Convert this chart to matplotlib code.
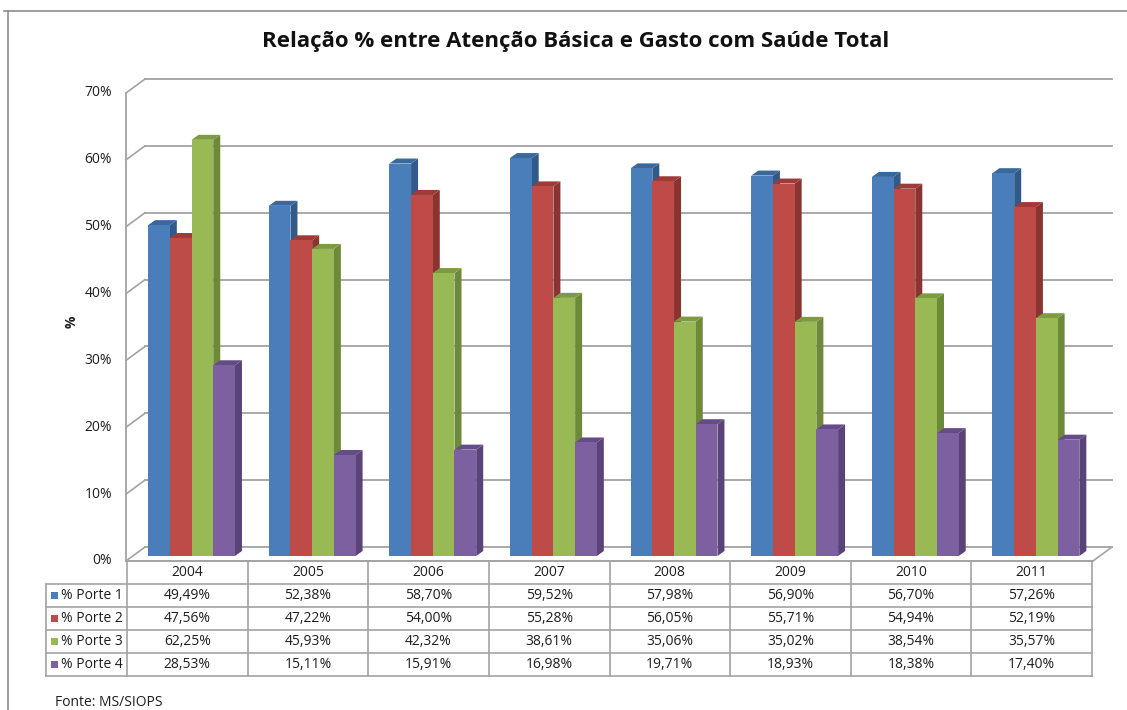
import matplotlib
matplotlib.use("Agg")
import matplotlib.pyplot as plt
from matplotlib.patches import Polygon, Rectangle
from matplotlib.lines import Line2D
import matplotlib.transforms as mtransforms

plt.rcParams['font.family'] = ['Open Sans', 'DejaVu Sans']

# ---------------- data ----------------
years = ["2004", "2005", "2006", "2007", "2008", "2009", "2010", "2011"]
series_names = ["% Porte 1", "% Porte 2", "% Porte 3", "% Porte 4"]
porte1 = [49.49, 52.38, 58.70, 59.52, 57.98, 56.90, 56.70, 57.26]
porte2 = [47.56, 47.22, 54.00, 55.28, 56.05, 55.71, 54.94, 52.19]
porte3 = [62.25, 45.93, 42.32, 38.61, 35.06, 35.02, 38.54, 35.57]
porte4 = [28.53, 15.11, 15.91, 16.98, 19.71, 18.93, 18.38, 17.40]
yticks = [0, 10, 20, 30, 40, 50, 60, 70]
title = "Relação % entre Atenção Básica e Gasto com Saúde Total"
source = "Fonte: MS/SIOPS"

series = [porte1, porte2, porte3, porte4]
front_colors = ["#4A7EBB", "#BE4B48", "#98B954", "#7D60A0"]
side_colors = ["#31598A", "#8A3431", "#6D8A3B", "#594379"]
top_colors = ["#3A679C", "#9C3B38", "#7C9B42", "#644C88"]
grid_color = "#A3A3A3"
text_color = "#1E1E1E"

W, H = 1127, 710
fig = plt.figure(figsize=(W / 100, H / 100), dpi=100)


def fx(px):
    return px / W


def fy(py):
    return 1 - py / H


# axes: bar plane, x in category units, y in percent
x_left_px, x_right_px = 127, 1092
y0_px, ytop_px = 556, 88
ax = fig.add_axes([fx(x_left_px), fy(y0_px), (x_right_px - x_left_px) / W, (y0_px - ytop_px) / H])
ax.set_xlim(-0.5, len(years) - 0.5)
ax.set_ylim(0, 70)
ax.axis('off')

ux = len(years) / (x_right_px - x_left_px)      # data units per pixel (x)
uy = 70 / (y0_px - ytop_px)                       # data units per pixel (y)

xl, xr = -0.5, len(years) - 0.5
# front plane offset and back plane offset (pixels)
fdx, fdy = -1, -5
bdx_l, bdx_r, bdy = 18, 20, 9

# back wall gridlines
for v in yticks:
    ax.add_line(Line2D([xl + bdx_l * ux, xr + bdx_r * ux], [v + bdy * uy, v + bdy * uy],
                       color=grid_color, lw=1.3, clip_on=False, zorder=1))
    # left wall diagonals
    ax.add_line(Line2D([xl + fdx * ux, xl + bdx_l * ux], [v + fdy * uy, v + bdy * uy],
                       color=grid_color, lw=1.2, clip_on=False, zorder=1))
    ax.text(xl - 15 * ux, v + fdy * uy, f"{v}%", ha='right', va='center',
            fontsize=10, color=text_color)

# left wall front edge (axis)
ax.add_line(Line2D([xl + fdx * ux, xl + fdx * ux], [fdy * uy, 70 + fdy * uy],
                   color=grid_color, lw=1.3, clip_on=False, zorder=1))
# floor front edge and right diagonal
ax.add_line(Line2D([xl + fdx * ux, xr + 1 * ux], [fdy * uy, fdy * uy],
                   color=grid_color, lw=1.3, clip_on=False, zorder=1))
ax.add_line(Line2D([xr + 1 * ux, xr + bdx_r * ux], [fdy * uy, bdy * uy],
                   color=grid_color, lw=1.2, clip_on=False, zorder=1))

# y axis title
ax.text(xl + (72 - x_left_px) * ux, (y0_px - 322) * uy, "%", rotation=90,
        ha='center', va='center', fontsize=10, fontweight='bold', color=text_color)

# 3D-ish bars
bw = 0.18
start = -0.325
ddx = 7 * ux
ddy = 5 * uy
for s, vals in enumerate(series):
    xs = [i + start + s * bw for i in range(len(years))]
    ax.bar(xs, vals, width=bw, align='edge', color=front_colors[s], edgecolor='none',
           zorder=5 + s * 3 + 2, clip_on=False)
    for x0, h in zip(xs, vals):
        side = Polygon([(x0 + bw, 0), (x0 + bw + ddx, ddy), (x0 + bw + ddx, h + ddy), (x0 + bw, h)],
                       closed=True, facecolor=side_colors[s], edgecolor='none',
                       zorder=5 + s * 3, clip_on=False)
        top = Polygon([(x0, h), (x0 + bw, h), (x0 + bw + ddx, h + ddy), (x0 + ddx, h + ddy)],
                      closed=True, facecolor=top_colors[s], edgecolor='none',
                      zorder=5 + s * 3 + 1, clip_on=False)
        ax.add_patch(side)
        ax.add_patch(top)

# ---------------- data table ----------------
tt = mtransforms.blended_transform_factory(ax.transData, fig.transFigure)
row_edges = [561, 584, 607, 630, 653, 676]
leg_left = 46
tbl_lc = dict(color=grid_color, lw=1.2)

# horizontal lines
fig.add_artist(Line2D([xl, xr], [fy(row_edges[0])] * 2, transform=tt, **tbl_lc))
for r in row_edges[1:]:
    fig.add_artist(Line2D([fx(leg_left), fx(x_right_px)], [fy(r)] * 2, **tbl_lc))
# vertical lines
fig.add_artist(Line2D([fx(leg_left)] * 2, [fy(row_edges[1]), fy(row_edges[-1])], **tbl_lc))
for i in range(len(years) + 1):
    fig.add_artist(Line2D([i - 0.5, i - 0.5], [fy(row_edges[0]), fy(row_edges[-1])],
                          transform=tt, **tbl_lc))

# header
yc = (row_edges[0] + row_edges[1]) / 2
for i, yr in enumerate(years):
    fig.text(i, fy(yc), yr, transform=tt, ha='center', va='center', fontsize=10, color=text_color)

# rows
for s, vals in enumerate(series):
    yc = (row_edges[s + 1] + row_edges[s + 2]) / 2
    fig.add_artist(Rectangle((fx(51), fy(yc + 3.5)), 7 / W, 7 / H, facecolor=front_colors[s],
                             edgecolor='none'))
    fig.text(fx(61), fy(yc), series_names[s], ha='left', va='center', fontsize=10, color=text_color)
    for i, v in enumerate(vals):
        fig.text(i, fy(yc), f"{v:.2f}%".replace('.', ','), transform=tt,
                 ha='center', va='center', fontsize=10, color=text_color)

# title
fig.text(fx(576), fy(42), title, ha='center', va='center', fontsize=16,
         fontweight='bold', color="#111111")

# source
fig.text(fx(55), fy(709.5), source, ha='left', va='bottom', fontsize=10, color=text_color)

# chart frame
fig.add_artist(Line2D([fx(4), fx(W)], [fy(11), fy(11)], color="#8C8C8C", lw=1.2))
fig.add_artist(Line2D([fx(8), fx(8)], [fy(11), fy(H)], color="#8C8C8C", lw=1.2))

fig.savefig("out.png", dpi=100, facecolor='white')
